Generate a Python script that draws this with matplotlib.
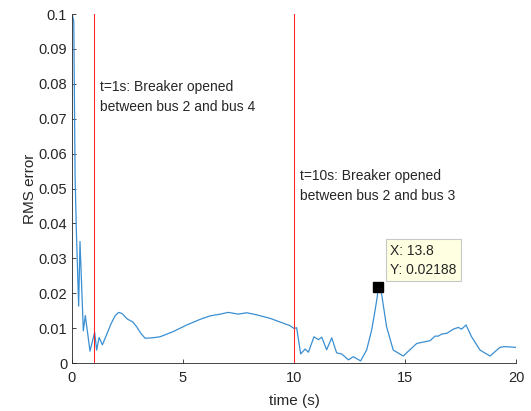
import matplotlib
matplotlib.use("Agg")
import matplotlib.pyplot as plt
from matplotlib.ticker import FixedLocator, FixedFormatter

plt.rcParams['font.family'] = ['Liberation Sans', 'DejaVu Sans']

# RMS error trace
time_s = [0, 0.08, 0.11, 0.14, 0.2, 0.30, 0.36, 0.51, 0.60, 0.81, 1.02, 1.11,
          1.22, 1.37, 1.77, 1.95, 2.10, 2.25, 2.49, 2.73, 2.91, 3.1, 3.29,
          3.6, 3.96, 4.56, 5.17, 5.77, 6.22, 6.67, 7.04, 7.49, 7.87, 8.32,
          8.92, 9.52, 9.82, 10.0, 10.12, 10.30, 10.50, 10.65, 10.90, 11.10,
          11.25, 11.47, 11.70, 11.92, 12.15, 12.45, 12.67, 13.0, 13.27, 13.5,
          13.65, 13.75, 13.8, 13.87, 13.95, 14.17, 14.47, 14.92, 15.53, 15.90,
          16.13, 16.35, 16.5, 16.65, 16.88, 17.18, 17.40, 17.55, 17.75, 18.0,
          18.38, 18.83, 19.28, 19.5, 19.95, 20.0]
rms_err = [0.1, 0.098, 0.075, 0.053, 0.037, 0.0163, 0.0348, 0.0092, 0.0136,
           0.0034, 0.0088, 0.0037, 0.0073, 0.0052, 0.0114, 0.0136, 0.0145,
           0.0142, 0.0126, 0.0118, 0.0104, 0.0085, 0.0071, 0.0072, 0.0075,
           0.0090, 0.0109, 0.0125, 0.0135, 0.0140, 0.0145, 0.0140, 0.0144,
           0.0138, 0.0128, 0.0114, 0.0107, 0.0099, 0.0101, 0.0026, 0.0040,
           0.0031, 0.0075, 0.0067, 0.0074, 0.0038, 0.0072, 0.0029, 0.0026,
           0.0009, 0.0018, 0.0006, 0.0037, 0.0095, 0.0150, 0.0190, 0.02188,
           0.0215, 0.0196, 0.0104, 0.0037, 0.0020, 0.0056, 0.0061, 0.0064,
           0.0077, 0.0077, 0.0083, 0.0085, 0.0097, 0.0102, 0.0097, 0.0109,
           0.0075, 0.0037, 0.0020, 0.0045, 0.0047, 0.0045, 0.0045]

event_times = [1, 10]
event_labels = ["t=1s: Breaker opened\nbetween bus 2 and bus 4",
                "t=10s: Breaker opened\nbetween bus 2 and bus 3"]
event_label_y = [0.0762, 0.0507]

tip_x = 13.8
tip_y = 0.02188

x_ticks = [0, 5, 10, 15, 20]
y_ticks = [0, 0.01, 0.02, 0.03, 0.04, 0.05, 0.06, 0.07, 0.08, 0.09, 0.1]
y_tick_labels = ["0", "0.01", "0.02", "0.03", "0.04", "0.05", "0.06",
                 "0.07", "0.08", "0.09", "0.1"]

fig = plt.figure(figsize=(5.31, 4.11), dpi=100)
ax = fig.add_axes([72 / 531, 48 / 411, 444 / 531, 349 / 411])

dark = '#262626'
ax.plot(time_s, rms_err, color='#3A8FD3', lw=0.9, clip_on=True)
for t in event_times:
    ax.axvline(t, color='#FF2020', lw=0.75)
for t, lab, ly in zip(event_times, event_labels, event_label_y):
    ax.text(t + 0.25, ly, lab, fontsize=10, color=dark, ha='left', va='center',
            linespacing=1.5)

ax.plot([tip_x], [tip_y], marker='s', ms=6.5, color='black', zorder=5)
ax.annotate(f"X: {tip_x}\nY: {tip_y}", xy=(tip_x, tip_y), xytext=(12, 10),
            textcoords='offset pixels', ha='left', va='bottom', fontsize=10,
            color=dark, linespacing=1.45,
            bbox=dict(boxstyle='square,pad=0.33', fc='#FFFFE1', ec='#C8C8C8',
                      lw=0.8), zorder=6)

ax.set_xlim(0, 20)
ax.set_ylim(0, 0.1)
ax.xaxis.set_major_locator(FixedLocator(x_ticks))
ax.yaxis.set_major_locator(FixedLocator(y_ticks))
ax.yaxis.set_major_formatter(FixedFormatter(y_tick_labels))
ax.tick_params(direction='in', length=3.2, width=0.6, colors=dark,
               labelsize=10.5, labelcolor=dark)
ax.tick_params(axis='x', pad=6)
for s in ['top', 'right']:
    ax.spines[s].set_visible(False)
for s in ['left', 'bottom']:
    ax.spines[s].set_color(dark)
    ax.spines[s].set_linewidth(0.6)

ax.set_xlabel('time (s)', fontsize=11, color=dark, labelpad=6)
ax.set_ylabel('RMS error', fontsize=11, color=dark, labelpad=1)

fig.savefig('out.png', dpi=100)
